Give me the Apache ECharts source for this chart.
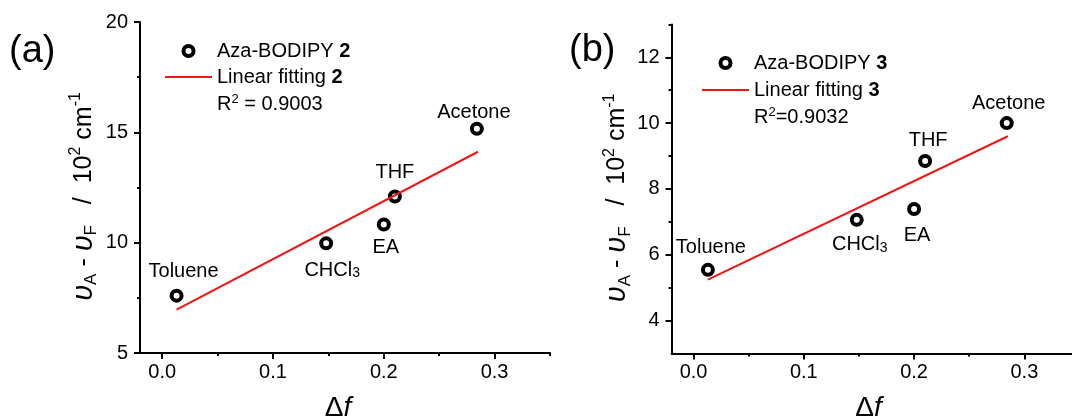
<!DOCTYPE html>
<html><head><meta charset="utf-8">
<script src="https://cdn.jsdelivr.net/npm/echarts@6/dist/echarts.min.js"></script>
<style>html,body{margin:0;padding:0;background:#fff}#c{width:1072px;height:418px}</style>
</head><body><div id="c"></div>
<script>
// ---- data ----
const solvents = ['Toluene', 'CHCl3', 'EA', 'THF', 'Acetone'];
const deltaF = [0.013, 0.148, 0.200, 0.210, 0.284];
const shiftA = [7.6, 9.97, 10.82, 12.09, 15.16];
const shiftB = [5.54, 7.06, 7.39, 8.85, 10.0];
const fitX = [0.013, 0.285];
const fitYA = [6.97, 14.12];
const fitYB = [5.24, 9.6];
const xTicks = [0.0, 0.1, 0.2, 0.3];
const xMinorTicks = [0.05, 0.15, 0.25, 0.35];
const yTicksA = [5, 10, 15, 20];
const yMinorTicksA = [7.5, 12.5, 17.5];
const yTicksB = [4, 6, 8, 10, 12];
const yMinorTicksB = [5, 7, 9, 11, 13];
const namesA = ['Aza-BODIPY 2', 'Linear fitting 2'];
const namesB = ['Aza-BODIPY 3', 'Linear fitting 3'];
const r2A = 'R{sup|2} = 0.9003';
const r2B = 'R{sup|2}=0.9032';

// ---- layout / style ----
const FONT = '"Liberation Sans", Arial, sans-serif';
const RED = '#f01414';
const labelPlace = ['top', 'bottom', 'bottom', 'top', 'top'];
const labelShiftA = [[7, -2], [6, 5], [2, 1], [0, -2], [-3, 6]];
const labelShiftB = [[3, 0], [3, 3], [3, 5], [3, 2], [2, 2]];

function fmtSolvent(n) { return n.replace(/(\d)$/, '{sub|$1}'); }

function xAxes(gi) {
  return [{
    type: 'value', gridIndex: gi, min: -0.02, max: 0.35, position: 'bottom',
    axisLine: { show: true, onZero: false, lineStyle: { color: '#000', width: 2 } },
    axisTick: { show: true, customValues: xTicks, length: 6, lineStyle: { color: '#000', width: 2 } },
    axisLabel: { customValues: xTicks, formatter: v => v.toFixed(1), fontSize: 20, color: '#000', margin: 9, fontFamily: FONT },
    splitLine: { show: false },
    name: '{d|Δ}{f|f}', nameLocation: 'middle', nameGap: 39,
    nameTextStyle: { fontSize: 28, lineHeight: 32, color: '#000', fontFamily: FONT, padding: [0, 14, 0, 0],
      rich: { d: { fontSize: 28, lineHeight: 32, fontFamily: FONT }, f: { fontSize: 28, lineHeight: 32, fontStyle: 'italic', fontFamily: FONT } } }
  }, {
    type: 'value', gridIndex: gi, min: -0.02, max: 0.35, position: 'bottom',
    axisLine: { show: false, onZero: false },
    axisTick: { show: true, customValues: xMinorTicks, length: 3, lineStyle: { color: '#000', width: 2 } },
    axisLabel: { show: false }, splitLine: { show: false }
  }];
}

const yName = '{i|υ}{sub|A}{n| - }{i|υ}{sub|F}{n|   /  10}{sup|2}{n| cm}{sup|-1}';
function yAxes(gi, min, max, ticks, minor, gap) {
  return [{
    type: 'value', gridIndex: gi, min: min, max: max, position: 'left',
    axisLine: { show: true, onZero: false, lineStyle: { color: '#000', width: 2 } },
    axisTick: { show: true, customValues: ticks, length: 6, lineStyle: { color: '#000', width: 2 } },
    axisLabel: { customValues: ticks, fontSize: 20, color: '#000', margin: 12, fontFamily: FONT },
    splitLine: { show: false },
    name: yName, nameLocation: 'middle', nameRotate: 90, nameGap: gap,
    nameTextStyle: { fontSize: 25, lineHeight: 32, color: '#000', fontFamily: FONT, padding: [0, 18, 0, 0],
      rich: {
        i: { fontSize: 29, lineHeight: 32, fontStyle: 'italic', fontFamily: FONT },
        n: { fontSize: 25, lineHeight: 32, fontFamily: FONT },
        sub: { fontSize: 17, lineHeight: 10, verticalAlign: 'bottom', fontFamily: FONT },
        sup: { fontSize: 16, lineHeight: 16, verticalAlign: 'top', fontFamily: FONT }
      } }
  }, {
    type: 'value', gridIndex: gi, min: min, max: max, position: 'left',
    axisLine: { show: false, onZero: false },
    axisTick: { show: true, customValues: minor, length: 3, lineStyle: { color: '#000', width: 2 } },
    axisLabel: { show: false }, splitLine: { show: false }
  }];
}

function scatterSeries(name, xi, yi, ys, shifts) {
  return {
    type: 'scatter', name: name, xAxisIndex: xi, yAxisIndex: yi, z: 2,
    symbol: 'circle', symbolSize: 10,
    itemStyle: { color: '#fff', borderColor: '#000', borderWidth: 4, opacity: 1 },
    label: {
      show: true, formatter: p => fmtSolvent(p.name), fontSize: 20, lineHeight: 20, color: '#000',
      fontFamily: FONT, distance: 5,
      rich: { sub: { fontSize: 14, lineHeight: 4, verticalAlign: 'bottom', fontFamily: FONT } }
    },
    emphasis: { disabled: true },
    data: solvents.map((s, i) => ({
      name: s, value: [deltaF[i], ys[i]],
      label: { position: labelPlace[i], offset: shifts[i] }
    }))
  };
}
function fitSeries(name, xi, yi, ys) {
  return {
    type: 'line', name: name, xAxisIndex: xi, yAxisIndex: yi, z: 3,
    symbol: 'none', lineStyle: { color: RED, width: 2 }, itemStyle: { color: RED },
    emphasis: { disabled: true },
    data: fitX.map((x, i) => [x, ys[i]])
  };
}

function legendFor(names, left, top, gap) {
  return {
    data: [{ name: names[0] }, { name: names[1], icon: 'path://M0,0H47V2H0Z' }],
    orient: 'vertical', left: left, top: top, padding: 0, itemGap: gap,
    itemWidth: 47, itemHeight: 10, selectedMode: false,
    itemStyle: { borderWidth: 'inherit', opacity: 1 },
    formatter: n => n.replace(/ (\d)$/, ' {b|$1}'),
    textStyle: { fontSize: 20, lineHeight: 20, color: '#000', fontFamily: FONT,
      rich: { b: { fontSize: 20, lineHeight: 20, fontWeight: 'bold', fontFamily: FONT } } }
  };
}
const r2Style = { fontSize: 20, lineHeight: 22, fontWeight: 'normal', color: '#000', fontFamily: FONT,
  rich: { sup: { fontSize: 13, lineHeight: 14, verticalAlign: 'top', fontFamily: FONT } } };
const panelStyle = { fontSize: 38, lineHeight: 42, fontWeight: 'normal', color: '#000', fontFamily: FONT };

const chart = echarts.init(document.getElementById('c'), null, { renderer: 'canvas' });
chart.setOption({
  animation: false,
  backgroundColor: '#fff',
  textStyle: { fontFamily: FONT },
  title: [
    { text: '(a)', left: 9, top: 31, padding: 0, textStyle: panelStyle },
    { text: '(b)', left: 569, top: 30, padding: 0, textStyle: panelStyle },
    { text: r2A, left: 217, top: 93, padding: 0, textStyle: r2Style },
    { text: r2B, left: 754, top: 106, padding: 0, textStyle: r2Style }
  ],
  legend: [legendFor(namesA, 165, 41, 6), legendFor(namesB, 702, 53, 7)],
  grid: [
    { left: 140, top: 22, width: 410, height: 331, outerBoundsMode: 'none', containLabel: false },
    { left: 671.5, top: 24.4, width: 408, height: 329, outerBoundsMode: 'none', containLabel: false }
  ],
  xAxis: [...xAxes(0), ...xAxes(1)],
  yAxis: [...yAxes(0, 5, 20, yTicksA, yMinorTicksA, 40), ...yAxes(1, 3, 13, yTicksB, yMinorTicksB, 33)],
  series: [
    scatterSeries(namesA[0], 0, 0, shiftA, labelShiftA),
    fitSeries(namesA[1], 0, 0, fitYA),
    scatterSeries(namesB[0], 2, 2, shiftB, labelShiftB),
    fitSeries(namesB[1], 2, 2, fitYB)
  ]
});
</script></body></html>
